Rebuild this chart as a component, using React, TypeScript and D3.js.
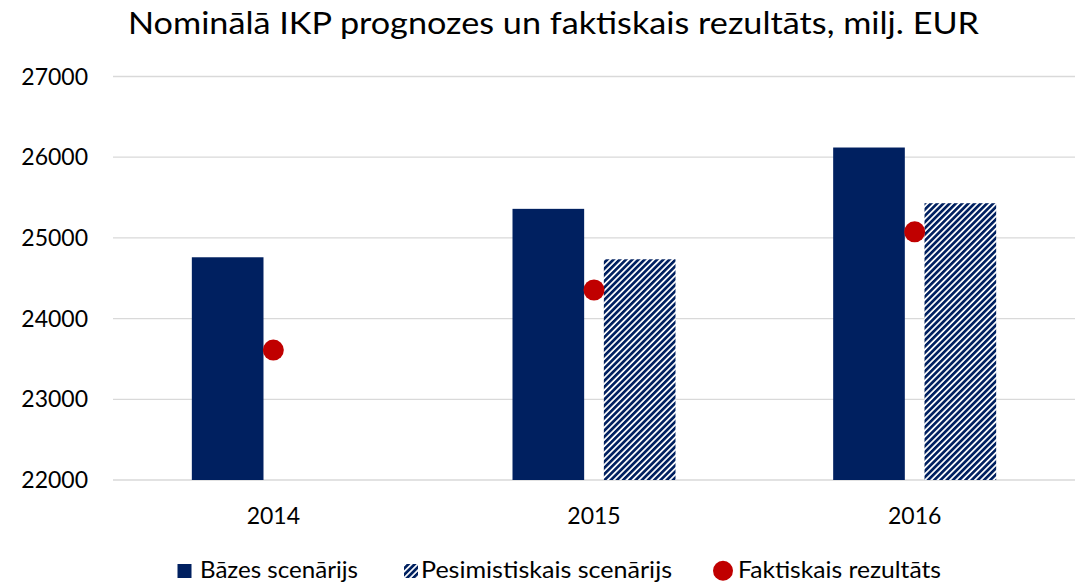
import React from 'react';
import * as d3 from 'd3';

const categories = ['2014', '2015', '2016'];
const baseValues = [24760, 25360, 26120];
const pessValues: (number | null)[] = [null, 24735, 25430];
const actualValues = [23610, 24355, 25075];
const yTicks = [22000, 23000, 24000, 25000, 26000, 27000];
const seriesNames = ['Bāzes scenārijs', 'Pesimistiskais scenārijs', 'Faktiskais rezultāts'];
const title = 'Nominālā IKP prognozes un faktiskais rezultāts, milj. EUR';

const W = 1079;
const H = 583;
const NAVY = '#002060';
const RED = '#C00000';
const FONT = 'Lato, "Open Sans", sans-serif';

export default function App() {
  const x = d3.scaleBand<string>().domain(categories).range([113, 1075]).padding(0);
  const inner = d3.scaleBand<string>().domain(['base', 'pess']).range([-81.5, 81.5]).paddingInner(0.2155);
  const y = d3.scaleLinear().domain([22000, 27000]).range([480, 76.5]);
  const cx = (c: string) => (x(c) as number) + x.bandwidth() / 2;

  return (
    <svg width={W} height={H} style={{ position: 'absolute', left: 0, top: 0 }} fontFamily={FONT}>
      <defs>
        <pattern id="hatch" patternUnits="userSpaceOnUse" width={4.4} height={4.4} patternTransform="rotate(45)">
          <rect x={0} y={0} width={4.4} height={4.4} fill="#fff" />
          <rect x={0} y={0} width={2.7} height={4.4} fill={NAVY} />
        </pattern>
      </defs>
      <rect width={W} height={H} fill="#fff" />
      <text x={553.5} y={34} textAnchor="middle" fontSize={31} fill="#000" textLength={851} lengthAdjust="spacingAndGlyphs">
        {title}
      </text>
      {yTicks.map((t) => (
        <g key={t}>
          <line x1={113} x2={1075} y1={y(t)} y2={y(t)} stroke="#d9d9d9" strokeWidth={1.3} />
          <text x={88} y={y(t)} dy="0.35em" textAnchor="end" fontSize={23} fill="#000">
            {t}
          </text>
        </g>
      ))}
      {categories.map((c, i) => (
        <g key={c}>
          <rect
            x={cx(c) + (inner('base') as number)}
            width={inner.bandwidth()}
            y={y(baseValues[i])}
            height={y(22000) - y(baseValues[i])}
            fill={NAVY}
          />
          {pessValues[i] != null && (
            <rect
              x={cx(c) + (inner('pess') as number)}
              width={inner.bandwidth()}
              y={y(pessValues[i] as number)}
              height={y(22000) - y(pessValues[i] as number)}
              fill="url(#hatch)"
            />
          )}
          <circle cx={cx(c)} cy={y(actualValues[i])} r={10.5} fill={RED} />
          <text x={cx(c)} y={524} textAnchor="middle" fontSize={23} fill="#000">
            {c}
          </text>
        </g>
      ))}
      <g>
        <rect x={177.5} y={564} width={14} height={14} fill={NAVY} />
        <text x={200} y={578} fontSize={23} fill="#000" textLength={158} lengthAdjust="spacingAndGlyphs">{seriesNames[0]}</text>
        <rect x={404} y={564} width={14} height={14} fill="url(#hatch)" />
        <text x={421} y={578} fontSize={23} fill="#000" textLength={251} lengthAdjust="spacingAndGlyphs">{seriesNames[1]}</text>
        <circle cx={723} cy={570.7} r={10} fill={RED} />
        <text x={738} y={578} fontSize={23} fill="#000" textLength={203} lengthAdjust="spacingAndGlyphs">{seriesNames[2]}</text>
      </g>
    </svg>
  );
}
